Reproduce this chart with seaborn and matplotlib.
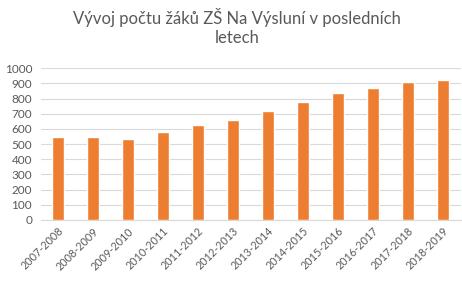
import matplotlib
matplotlib.use("Agg")
import matplotlib.pyplot as plt
import seaborn as sns
import pandas as pd

years = ["2007-2008", "2008-2009", "2009-2010", "2010-2011", "2011-2012", "2012-2013",
         "2013-2014", "2014-2015", "2015-2016", "2016-2017", "2017-2018", "2018-2019"]
pupils = [549, 549, 534, 580, 628, 659, 718, 778, 837, 870, 910, 923]
yticks = [0, 100, 200, 300, 400, 500, 600, 700, 800, 900, 1000]
title = "Vývoj počtu žáků ZŠ Na Výsluní v posledních\nletech"

sns.set_theme(style="white")
plt.rcParams['font.family'] = ['Lato', 'DejaVu Sans']

df = pd.DataFrame({"year": years, "pupils": pupils})

fig = plt.figure(figsize=(4.62, 2.81), dpi=100)
ax = fig.add_axes([40.5/462, 1 - 220/281, 420/462, (220 - 68.3)/281])
sns.barplot(data=df, x="year", y="pupils", color="#ED7D31", width=0.32,
            saturation=1, ax=ax, zorder=3)
ax.set_ylim(0, 1000)
ax.set_yticks(yticks)
ax.set_yticklabels([str(t) for t in yticks])
ax.set_xlim(-0.5, len(years) - 0.5)
ax.grid(axis="y", color="#D9D9D9", linewidth=0.8, zorder=0)
for s in ["top", "right", "left"]:
    ax.spines[s].set_visible(False)
ax.spines["bottom"].set_color("#D9D9D9")
ax.spines["bottom"].set_linewidth(0.8)
ax.set_xlabel("")
ax.set_ylabel("")
ax.tick_params(axis="both", length=0, colors="#595959")
ax.tick_params(axis="y", pad=6, labelsize=8.5)
ax.tick_params(axis="x", pad=4, labelsize=7.8)
plt.setp(ax.get_xticklabels(), rotation=45, ha="right", rotation_mode="anchor")
fig.text(237/462, 1 - 8/281, title, ha="center", va="top", fontsize=12.0, color="#595959",
         linespacing=1.22)
fig.savefig("out.png", dpi=100)
